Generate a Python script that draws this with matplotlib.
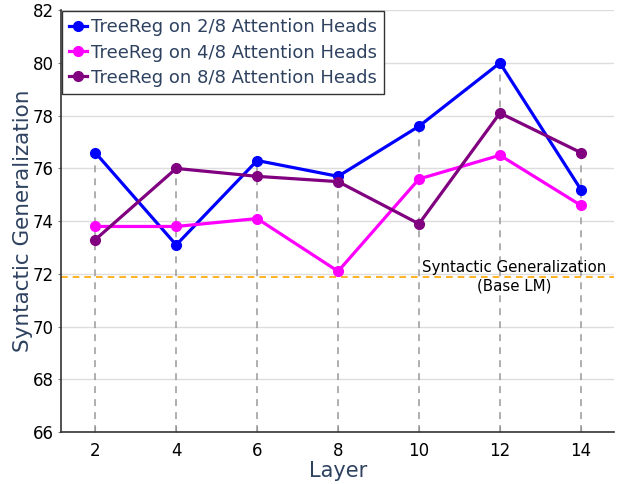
import matplotlib
matplotlib.use("Agg")
import matplotlib.pyplot as plt

layers = [2, 4, 6, 8, 10, 12, 14]
heads_2 = [76.6, 73.1, 76.3, 75.7, 77.6, 80.0, 75.2]
heads_4 = [73.8, 73.8, 74.1, 72.1, 75.6, 76.5, 74.6]
heads_8 = [73.3, 76.0, 75.7, 75.5, 73.9, 78.1, 76.6]
base_lm = 71.9

series = [
    ("TreeReg on 2/8 Attention Heads", heads_2, "blue"),
    ("TreeReg on 4/8 Attention Heads", heads_4, "magenta"),
    ("TreeReg on 8/8 Attention Heads", heads_8, "purple"),
]
label_color = "#2e4260"

fig = plt.figure(figsize=(6.19, 4.84), dpi=100)
ax = fig.add_axes([0.099, 0.107, 0.893, 0.872])

ax.set_xlim(1.16, 14.82)
ax.set_ylim(66, 82)

# horizontal grid
ax.yaxis.grid(True, color="#dddddd", linewidth=1.0)
ax.set_axisbelow(True)

# vertical guides up to the highest point at each layer
for i, x in enumerate(layers):
    top = max(heads_2[i], heads_4[i], heads_8[i])
    ax.plot([x, x], [66, top], color="#999999", linestyle=(0, (4.5, 4)), linewidth=1.1, zorder=1)

ax.axhline(base_lm, color="orange", linestyle=(0, (4, 3)), linewidth=1.2, zorder=1)
ax.text(12.35, base_lm, "Syntactic Generalization\n(Base LM)", ha="center", va="center",
        fontsize=10.8, color="black", linespacing=1.25)

for name, vals, col in series:
    ax.plot(layers, vals, color=col, marker="o", markersize=7, linewidth=2.3,
            label=name, zorder=3)

ax.set_xticks(layers)
ax.set_yticks(range(66, 83, 2))
ax.tick_params(axis="x", direction="in", length=4, color="gray", labelsize=12, pad=7)
ax.tick_params(axis="y", direction="out", length=2, color="gray", labelsize=12)

for side in ["top", "right"]:
    ax.spines[side].set_visible(False)
for side in ["left", "bottom"]:
    ax.spines[side].set_color("#333333")
    ax.spines[side].set_linewidth(1.2)

ax.set_xlabel("Layer", fontsize=15, color=label_color, labelpad=1)
ax.set_ylabel("Syntactic Generalization", fontsize=15.5, color=label_color, labelpad=0)

leg = ax.legend(loc="upper left", fontsize=13, fancybox=False, framealpha=1,
                edgecolor="#333333", handlelength=1.0, handletextpad=0.2,
                borderaxespad=0.05, borderpad=0.4, labelspacing=0.4)
for t in leg.get_texts():
    t.set_color(label_color)

fig.savefig("out.png", dpi=100)
